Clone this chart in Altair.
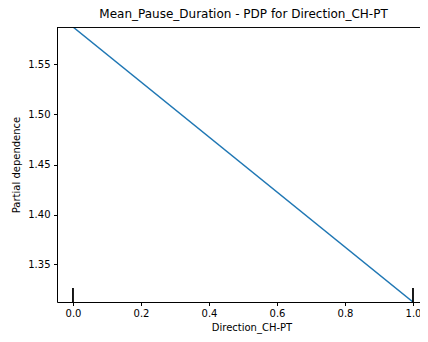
import altair as alt
import pandas as pd

# PDP line values
feature_values = [0.0, 1.0]
partial_dependence = [1.5875, 1.3125]
# decile marks along the x axis
decile_positions = [0.0, 1.0]

y_ticks = [1.35, 1.40, 1.45, 1.50, 1.55]
x_ticks = [0.0, 0.2, 0.4, 0.6, 0.8, 1.0]

line_df = pd.DataFrame({"x": feature_values, "y": partial_dependence})
dec_df = pd.DataFrame({"x": decile_positions})

W, H = 363, 275
FONT = "DejaVu Sans"

xscale = alt.Scale(domain=[-0.047, 1.0206], nice=False, zero=False)
yscale = alt.Scale(domain=[1.3125, 1.5875], nice=False, zero=False)

line = alt.Chart(line_df).mark_line(color="#1f77b4", strokeWidth=1.5, clip=True).encode(
    x=alt.X("x:Q", scale=xscale,
            axis=alt.Axis(title="Direction_CH-PT", values=x_ticks, format=".1f",
                          grid=False, tickSize=3.5, labelPadding=3,
                          titleX=(73 + 430) / 2 - 57, titleY=20,
                          labelFont=FONT, titleFont=FONT, labelFontSize=10,
                          titleFontSize=10, titleFontWeight="normal",
                          labelColor="#000", titleColor="#000", domainColor="#000",
                          tickColor="#000", labelFlush=False, domainWidth=1)),
    y=alt.Y("y:Q", scale=yscale,
            axis=alt.Axis(title="Partial dependence", values=y_ticks, format=".2f",
                          grid=False, tickSize=3.5, labelPadding=3.5,
                          titleX=-36, titleY=H / 2,
                          labelFont=FONT, titleFont=FONT, labelFontSize=10,
                          titleFontSize=10, titleFontWeight="normal",
                          labelColor="#000", titleColor="#000", domainColor="#000",
                          tickColor="#000", labelFlush=False, domainWidth=1)),
)

deciles = alt.Chart(dec_df).mark_rule(color="black", strokeWidth=1.8).encode(
    x=alt.X("x:Q", scale=xscale),
    y=alt.value(H),
    y2=alt.value(H - 14),
)

top = alt.Chart(dec_df).mark_rule(color="black", strokeWidth=0.8).encode(
    x=alt.value(0), x2=alt.value(W), y=alt.value(0.5)
)

chart = (
    alt.layer(line, deciles, top)
    .properties(
        width=W, height=H,
        title=alt.TitleParams("Mean_Pause_Duration - PDP for Direction_CH-PT",
                              font=FONT, fontSize=12, fontWeight="normal",
                              color="#000", anchor="middle", offset=6,
                              dx=(57 + 430) / 2 - (57 + 57 + W) / 2),
        autosize=alt.AutoSizeParams(type="none"),
        padding={"left": 49, "top": 19, "right": 0, "bottom": 32},
    )
    .configure_view(stroke=None)
    .configure(background="white")
)

chart.save("out.html", embed_options={"renderer": "svg", "actions": False})
